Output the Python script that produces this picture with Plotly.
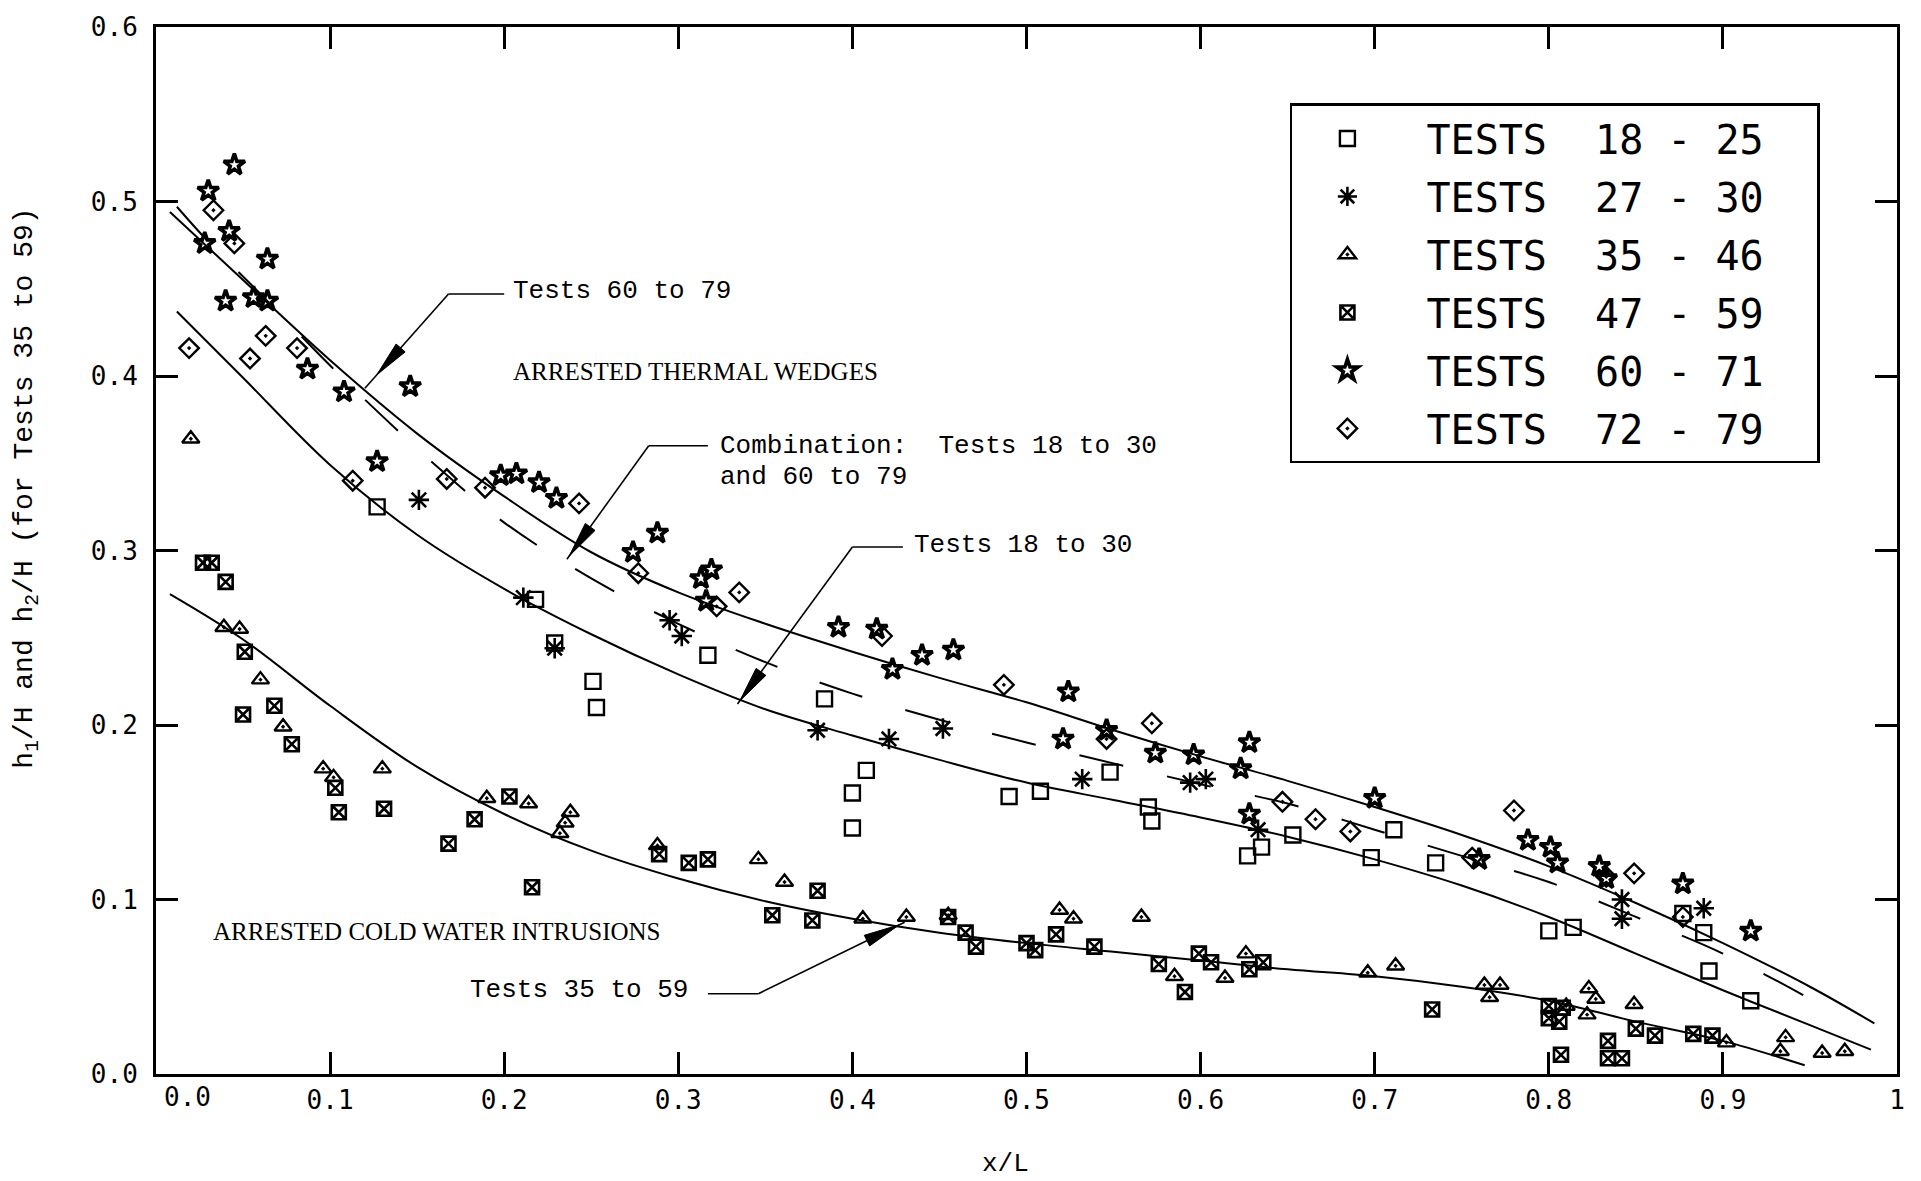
import math
import plotly.graph_objects as go

# ---------------- data ----------------
sq_x = [0.127, 0.218, 0.229, 0.251, 0.253, 0.317, 0.384, 0.400, 0.408, 0.400, 0.490, 0.508, 0.548,
        0.570, 0.572, 0.627, 0.635, 0.653, 0.698, 0.711, 0.735, 0.800, 0.814, 0.877, 0.889, 0.892, 0.916]
sq_y = [0.325, 0.272, 0.247, 0.225, 0.210, 0.240, 0.215, 0.161, 0.174, 0.141, 0.159, 0.162, 0.173,
        0.153, 0.145, 0.125, 0.130, 0.137, 0.124, 0.140, 0.121, 0.082, 0.084, 0.092, 0.081, 0.059, 0.042]

ast_x = [0.151, 0.211, 0.229, 0.295, 0.302, 0.380, 0.421, 0.452, 0.532, 0.594, 0.603, 0.633, 0.842, 0.842, 0.889]
ast_y = [0.329, 0.273, 0.244, 0.260, 0.251, 0.197, 0.192, 0.198, 0.169, 0.167, 0.169, 0.140, 0.100, 0.089, 0.095]

tri_x = [0.020, 0.039, 0.048, 0.060, 0.073, 0.096, 0.102, 0.130, 0.190, 0.214, 0.232, 0.235, 0.238, 0.288,
         0.346, 0.361, 0.406, 0.431, 0.455, 0.519, 0.527, 0.566, 0.585, 0.614, 0.626, 0.696, 0.712, 0.763,
         0.772, 0.766, 0.810, 0.823, 0.822, 0.827, 0.849, 0.902, 0.936, 0.933, 0.957, 0.970]
tri_y = [0.364, 0.256, 0.255, 0.226, 0.199, 0.175, 0.170, 0.175, 0.158, 0.155, 0.138, 0.144, 0.150, 0.131,
         0.123, 0.110, 0.089, 0.090, 0.091, 0.094, 0.089, 0.090, 0.056, 0.055, 0.069, 0.058, 0.062, 0.051,
         0.051, 0.044, 0.039, 0.049, 0.034, 0.043, 0.040, 0.018, 0.021, 0.013, 0.012, 0.013]

hg_x = [0.027, 0.032, 0.040, 0.051, 0.050, 0.068, 0.078, 0.103, 0.105, 0.131, 0.168, 0.183, 0.203, 0.216,
        0.289, 0.306, 0.317, 0.354, 0.377, 0.380, 0.455, 0.465, 0.471, 0.500, 0.505, 0.517, 0.539, 0.576,
        0.599, 0.606, 0.591, 0.628, 0.636, 0.733, 0.800, 0.808, 0.800, 0.806, 0.807, 0.834, 0.834, 0.842,
        0.850, 0.861, 0.883, 0.894]
hg_y = [0.293, 0.293, 0.282, 0.242, 0.206, 0.211, 0.189, 0.164, 0.150, 0.152, 0.132, 0.146, 0.159, 0.107,
        0.126, 0.121, 0.123, 0.091, 0.088, 0.105, 0.090, 0.081, 0.073, 0.075, 0.071, 0.080, 0.073, 0.063,
        0.069, 0.064, 0.047, 0.060, 0.064, 0.037, 0.039, 0.038, 0.032, 0.030, 0.011, 0.019, 0.009, 0.009,
        0.026, 0.022, 0.023, 0.022]

star_x = [0.030, 0.045, 0.028, 0.042, 0.064, 0.040, 0.056, 0.064, 0.087, 0.108, 0.146, 0.127, 0.198, 0.207,
          0.220, 0.230, 0.274, 0.288, 0.313, 0.319, 0.316, 0.392, 0.414, 0.423, 0.440, 0.458, 0.524, 0.521,
          0.546, 0.574, 0.596, 0.628, 0.623, 0.628, 0.700, 0.760, 0.788, 0.801, 0.805, 0.829, 0.833, 0.877, 0.916]
star_y = [0.506, 0.521, 0.476, 0.483, 0.467, 0.443, 0.445, 0.443, 0.404, 0.391, 0.394, 0.351, 0.343, 0.344,
          0.339, 0.330, 0.299, 0.310, 0.284, 0.289, 0.271, 0.256, 0.255, 0.232, 0.240, 0.243, 0.219, 0.192,
          0.197, 0.184, 0.183, 0.190, 0.175, 0.149, 0.158, 0.123, 0.134, 0.130, 0.121, 0.119, 0.112, 0.109, 0.082]

dia_x = [0.033, 0.045, 0.019, 0.054, 0.063, 0.081, 0.113, 0.167, 0.189, 0.243, 0.277, 0.322, 0.335, 0.417,
         0.487, 0.546, 0.572, 0.647, 0.666, 0.686, 0.756, 0.780, 0.833, 0.849, 0.877]
dia_y = [0.495, 0.476, 0.416, 0.410, 0.423, 0.416, 0.340, 0.341, 0.336, 0.327, 0.287, 0.268, 0.276, 0.251,
         0.223, 0.192, 0.201, 0.156, 0.146, 0.139, 0.124, 0.151, 0.113, 0.115, 0.090]

# fitted curves
c6079_x = [0.008, 0.05, 0.1, 0.15, 0.2, 0.25, 0.3, 0.35, 0.4, 0.45, 0.5, 0.55, 0.6, 0.65, 0.7, 0.75, 0.8,
           0.85, 0.9, 0.95, 0.987]
c6079_y = [0.494, 0.455, 0.409, 0.367, 0.331, 0.299, 0.276, 0.258, 0.242, 0.227, 0.213, 0.197, 0.182, 0.168,
           0.153, 0.137, 0.119, 0.098, 0.075, 0.050, 0.029]

comb_x = [0.012, 0.03, 0.06, 0.1, 0.13, 0.165, 0.2, 0.25, 0.3, 0.35, 0.4, 0.45, 0.5, 0.55, 0.6, 0.65, 0.7,
          0.75, 0.8, 0.85, 0.9, 0.95, 0.966]
comb_y = [0.497, 0.477, 0.447, 0.406, 0.377, 0.345, 0.316, 0.284, 0.258, 0.236, 0.218, 0.203, 0.190, 0.178,
          0.166, 0.155, 0.140, 0.125, 0.110, 0.090, 0.069, 0.043, 0.033]

c1830_x = [0.012, 0.05, 0.1, 0.15, 0.2, 0.25, 0.3, 0.35, 0.4, 0.45, 0.5, 0.55, 0.6, 0.65, 0.7, 0.75, 0.8,
           0.85, 0.9, 0.95, 0.985]
c1830_y = [0.437, 0.399, 0.349, 0.309, 0.278, 0.252, 0.229, 0.209, 0.194, 0.180, 0.167, 0.157, 0.147, 0.136,
           0.123, 0.108, 0.090, 0.069, 0.048, 0.028, 0.014]

c3559_x = [0.008, 0.05, 0.1, 0.15, 0.2, 0.25, 0.3, 0.35, 0.4, 0.45, 0.5, 0.55, 0.6, 0.65, 0.7, 0.75, 0.8,
           0.85, 0.9, 0.947]
c3559_y = [0.275, 0.249, 0.211, 0.176, 0.149, 0.128, 0.112, 0.099, 0.089, 0.081, 0.075, 0.070, 0.065, 0.060,
           0.056, 0.050, 0.042, 0.030, 0.019, 0.005]

legend_labels = ["TESTS  18 - 25", "TESTS  27 - 30", "TESTS  35 - 46",
                 "TESTS  47 - 59", "TESTS  60 - 71", "TESTS  72 - 79"]

x_tick_vals = [0.1, 0.2, 0.3, 0.4, 0.5, 0.6, 0.7, 0.8, 0.9, 1.0]
x_tick_text = ["0.1", "0.2", "0.3", "0.4", "0.5", "0.6", "0.7", "0.8", "0.9", "1"]
y_tick_vals = [0.0, 0.1, 0.2, 0.3, 0.4, 0.5, 0.6]
y_tick_text = ["0.0", "0.1", "0.2", "0.3", "0.4", "0.5", "0.6"]

# ---------------- figure ----------------
MONO = "DejaVu Sans Mono"
TYPE = "Liberation Mono"
SERIF = "Liberation Serif"
NB = "\u00a0"

W, H = 1921, 1181
ML, MR, MT, MB = 156, 24, 21, 107
PW, PH = W - ML - MR, H - MT - MB
XR, YR = (0.0, 1.0), (0.0, 0.6)

fig = go.Figure()

line_style = dict(color="black", width=2, shape="spline", smoothing=1.0)
for cx, cy, dash in [(c6079_x, c6079_y, "solid"), (comb_x, comb_y, "45px,45px"),
                     (c1830_x, c1830_y, "solid"), (c3559_x, c3559_y, "solid")]:
    fig.add_trace(go.Scatter(x=cx, y=cy, mode="lines", line=dict(line_style, dash=dash),
                             showlegend=False, hoverinfo="skip"))

series = [
    (sq_x, sq_y, "square-open", 15, 2.4),
    (ast_x, ast_y, "asterisk-open", 17, 2.6),
    (tri_x, tri_y, "triangle-up-open-dot", 15, 2.4),
    (hg_x, hg_y, "square-x-open", 14, 2.6),
    (star_x, star_y, "star-open", 16, 3.6),
    (dia_x, dia_y, "diamond-open-dot", 15, 2.4),
]
for i, (sx, sy, sym, size, lw) in enumerate(series):
    label = NB + legend_labels[i].replace(" ", NB) + NB + NB
    fig.add_trace(go.Scatter(
        x=sx, y=sy, mode="markers", name=label, legendgroup=f"g{i}",
        marker=dict(symbol=sym, size=size, color="black", line=dict(color="black", width=lw)),
    ))


def to_px(x, y):
    return (ML + (x - XR[0]) / (XR[1] - XR[0]) * PW,
            MT + PH - (y - YR[0]) / (YR[1] - YR[0]) * PH)


def to_data(px, py):
    return (XR[0] + (px - ML) / PW * (XR[1] - XR[0]),
            YR[0] + (MT + PH - py) / PH * (YR[1] - YR[0]))


def leader(corner, end_x, tip, back=0.0, length=36.0, half=6.0):
    cx, cy = corner
    tx, ty = tip
    if end_x is not None:
        fig.add_shape(type="line", xref="x", yref="y", x0=cx, y0=cy, x1=end_x, y1=cy,
                      line=dict(color="black", width=1.6))
    fig.add_shape(type="line", xref="x", yref="y", x0=cx, y0=cy, x1=tx, y1=ty,
                  line=dict(color="black", width=1.6))
    pcx, pcy = to_px(cx, cy)
    ptx, pty = to_px(tx, ty)
    dx, dy = ptx - pcx, pty - pcy
    n = math.hypot(dx, dy)
    ux, uy = dx / n, dy / n
    ax_, ay_ = ptx - ux * back, pty - uy * back
    bx, by = ax_ - ux * length, ay_ - uy * length
    pts = [(ax_, ay_), (bx - uy * half, by + ux * half), (bx + uy * half, by - ux * half)]
    dpts = [to_data(*p) for p in pts]
    path = "M {:.5f},{:.5f} L {:.5f},{:.5f} L {:.5f},{:.5f} Z".format(
        dpts[0][0], dpts[0][1], dpts[1][0], dpts[1][1], dpts[2][0], dpts[2][1])
    fig.add_shape(type="path", xref="x", yref="y", path=path, fillcolor="black",
                  line=dict(color="black", width=1))


leader((0.168, 0.447), 0.200, (0.120, 0.393), back=18)
leader((0.283, 0.360), 0.317, (0.236, 0.295), back=4)
leader((0.400, 0.302), 0.429, (0.334, 0.212), back=4)
fig.add_shape(type="line", xref="x", yref="y", x0=0.317, y0=0.046, x1=0.346, y1=0.046,
              line=dict(color="black", width=1.6))
leader((0.346, 0.046), None, (0.430, 0.087), back=6)

txt_font = dict(family=TYPE, size=26, color="black")
serif_font = dict(family=SERIF, size=25, color="black")
texts = [
    ("Tests 60 to 79", 0.204, 0.449, txt_font),
    ("ARRESTED THERMAL WEDGES", 0.204, 0.4026, serif_font),
    ("Combination:" + NB + NB + "Tests 18 to 30", 0.323, 0.360, txt_font),
    ("and 60 to 79", 0.323, 0.342, txt_font),
    ("Tests 18 to 30", 0.434, 0.303, txt_font),
    ("ARRESTED COLD WATER INTRUSIONS", 0.0315, 0.0815, serif_font),
    ("Tests 35 to 59", 0.179, 0.048, txt_font),
]
for t, x, y, f in texts:
    fig.add_annotation(x=x, y=y, xref="x", yref="y", text=t, showarrow=False,
                       xanchor="left", yanchor="middle", font=f)

# axis titles and the shifted 0.0 x tick label
fig.add_annotation(x=0.4877, y=-0.0855, xref="paper", yref="paper", text="x/L", showarrow=False,
                   xanchor="center", yanchor="middle", font=txt_font)
fig.add_annotation(x=-0.0741, y=0.560, xref="paper", yref="paper",
                   text="h<sub>1</sub>/H and h<sub>2</sub>/H (for Tests 35 to 59)",
                   textangle=-90, showarrow=False, xanchor="center", yanchor="middle",
                   font=dict(family=TYPE, size=28, color="black"))
fig.add_annotation(x=0.018, y=-0.0215, xref="x", yref="paper", text="0.0", showarrow=False,
                   xanchor="center", yanchor="middle", font=dict(family=MONO, size=26, color="black"))

tick_font = dict(family=MONO, size=26, color="black")
fig.update_layout(
    width=W, height=H, autosize=False,
    margin=dict(l=ML, r=MR, t=MT, b=MB),
    paper_bgcolor="white", plot_bgcolor="white",
    xaxis=dict(range=list(XR), tickvals=x_tick_vals, ticktext=x_tick_text, ticks="inside", ticklen=22,
               tickwidth=2.5, tickcolor="black", showline=True, linewidth=3, linecolor="black",
               mirror="ticks", showgrid=False, zeroline=False, tickfont=tick_font,
               ticklabelstandoff=1),
    yaxis=dict(range=list(YR), tickvals=y_tick_vals, ticktext=y_tick_text, ticks="inside", ticklen=22,
               tickwidth=2.5, tickcolor="black", showline=True, linewidth=3, linecolor="black",
               mirror="ticks", showgrid=False, zeroline=False, tickfont=tick_font,
               ticklabelstandoff=10),
    legend=dict(x=0.6513, y=0.927, xanchor="left", yanchor="top", bgcolor="white",
                bordercolor="black", borderwidth=2.5, font=dict(family=MONO, size=40, color="black"),
                itemwidth=100, tracegroupgap=3, traceorder="grouped"),
    showlegend=True,
)

fig.write_html("out.html")
